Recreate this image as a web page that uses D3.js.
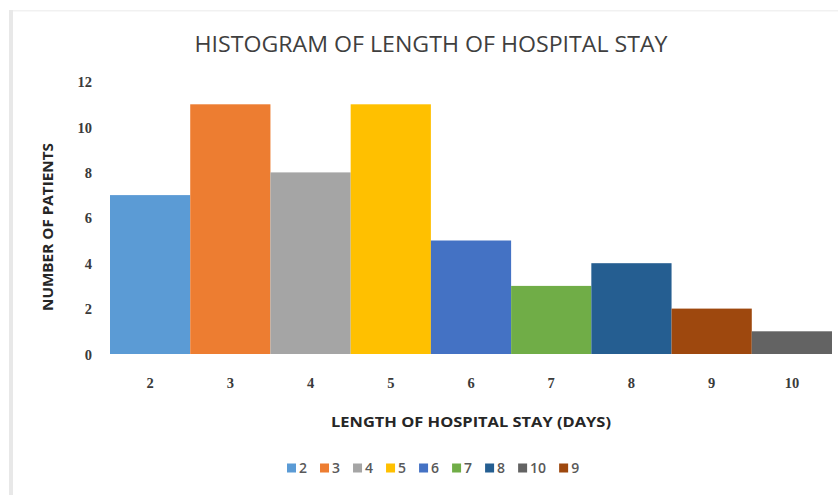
<!DOCTYPE html>
<html>
<head>
<meta charset="utf-8">
<script src="https://cdn.jsdelivr.net/npm/d3@7"></script>
<style>
  html, body { margin: 0; padding: 0; background: #fff; }
  svg { display: block; }
</style>
</head>
<body>
<svg id="chart" width="838" height="495"></svg>
<script>
// Length of stay (days) and patient counts per bin
const stayDays = ["2", "3", "4", "5", "6", "7", "8", "9", "10"];
const patientCounts = [7, 11, 8, 11, 5, 3, 4, 2, 1];
const barColors = ["#5B9BD5", "#ED7D31", "#A5A5A5", "#FFC000", "#4472C4", "#70AD47", "#255E91", "#9E480E", "#636363"];
const legendOrder = ["2", "3", "4", "5", "6", "7", "8", "10", "9"];
const yTicks = [0, 2, 4, 6, 8, 10, 12];

const svg = d3.select("#chart");
const W = 838, H = 495;
const plot = { left: 110, right: 832, top: 81.6, bottom: 354 };

// Chart frame edges
svg.append("rect").attr("x", 9).attr("y", 10).attr("width", 4).attr("height", H - 10).attr("fill", "#e8e8e8");
svg.append("rect").attr("x", 13).attr("y", 10).attr("width", W - 13).attr("height", 1.5).attr("fill", "#f1f1f1");

const x = d3.scaleBand().domain(stayDays).range([plot.left, plot.right]).padding(0);
const y = d3.scaleLinear().domain([0, 12]).range([plot.bottom, plot.top]);
const color = d3.scaleOrdinal().domain(stayDays).range(barColors);

const data = stayDays.map((d, i) => ({ day: d, count: patientCounts[i] }));

// Bars
svg.append("g").selectAll("rect").data(data).join("rect")
  .attr("x", d => x(d.day))
  .attr("y", d => y(d.count))
  .attr("width", x.bandwidth())
  .attr("height", d => y(0) - y(d.count))
  .attr("fill", d => color(d.day));

// Y axis (labels only)
const yAxis = d3.axisLeft(y).tickValues(yTicks).tickSize(0).tickPadding(0);
const gy = svg.append("g").attr("transform", "translate(92,0)").call(yAxis);
gy.select(".domain").remove();
gy.selectAll("text")
  .attr("font-family", "'Liberation Serif', serif")
  .attr("font-weight", "bold")
  .attr("font-size", 14.5)
  .attr("fill", "#3a3a3a")
  .attr("dy", "0.35em");

// X axis (labels only)
const xAxis = d3.axisBottom(x).tickSize(0).tickPadding(0);
const gx = svg.append("g").attr("transform", "translate(0,376)").call(xAxis);
gx.select(".domain").remove();
gx.selectAll("text")
  .attr("font-family", "'Liberation Serif', serif")
  .attr("font-weight", "bold")
  .attr("font-size", 14.5)
  .attr("fill", "#3a3a3a")
  .attr("dy", "0.35em")
  .attr("y", 7);

// Title
svg.append("text")
  .attr("x", 431).attr("y", 52)
  .attr("text-anchor", "middle")
  .attr("font-family", "'Open Sans', sans-serif")
  .attr("font-size", 21)
  .attr("fill", "#3f3f3f")
  .attr("textLength", 473).attr("lengthAdjust", "spacingAndGlyphs")
  .text("HISTOGRAM OF LENGTH OF HOSPITAL STAY");

// Axis titles
svg.append("text")
  .attr("x", 471).attr("y", 427)
  .attr("text-anchor", "middle")
  .attr("font-family", "'Open Sans', sans-serif")
  .attr("font-weight", "bold")
  .attr("font-size", 14.5)
  .attr("fill", "#262626")
  .attr("textLength", 280).attr("lengthAdjust", "spacingAndGlyphs")
  .text("LENGTH OF HOSPITAL STAY (DAYS)");

svg.append("text")
  .attr("transform", "translate(53,227) rotate(-90)")
  .attr("text-anchor", "middle")
  .attr("font-family", "'Open Sans', sans-serif")
  .attr("font-weight", "bold")
  .attr("font-size", 14.5)
  .attr("fill", "#262626")
  .attr("textLength", 168).attr("lengthAdjust", "spacingAndGlyphs")
  .text("NUMBER OF PATIENTS");

// Legend
const legend = svg.append("g").attr("transform", "translate(287,468)");
let lx = 0;
legendOrder.forEach(key => {
  const item = legend.append("g").attr("transform", `translate(${lx},0)`);
  item.append("rect").attr("x", 0).attr("y", -4.5).attr("width", 9).attr("height", 9).attr("fill", color(key));
  const t = item.append("text")
    .attr("x", 12).attr("y", 0).attr("dy", "0.35em")
    .attr("font-family", "'Open Sans', sans-serif")
    .attr("font-weight", 600)
    .attr("font-size", 14)
    .attr("fill", "#595959")
    .text(key);
  const tw = t.node().getComputedTextLength();
  lx += 12 + tw + 13;
});
</script>
</body>
</html>
